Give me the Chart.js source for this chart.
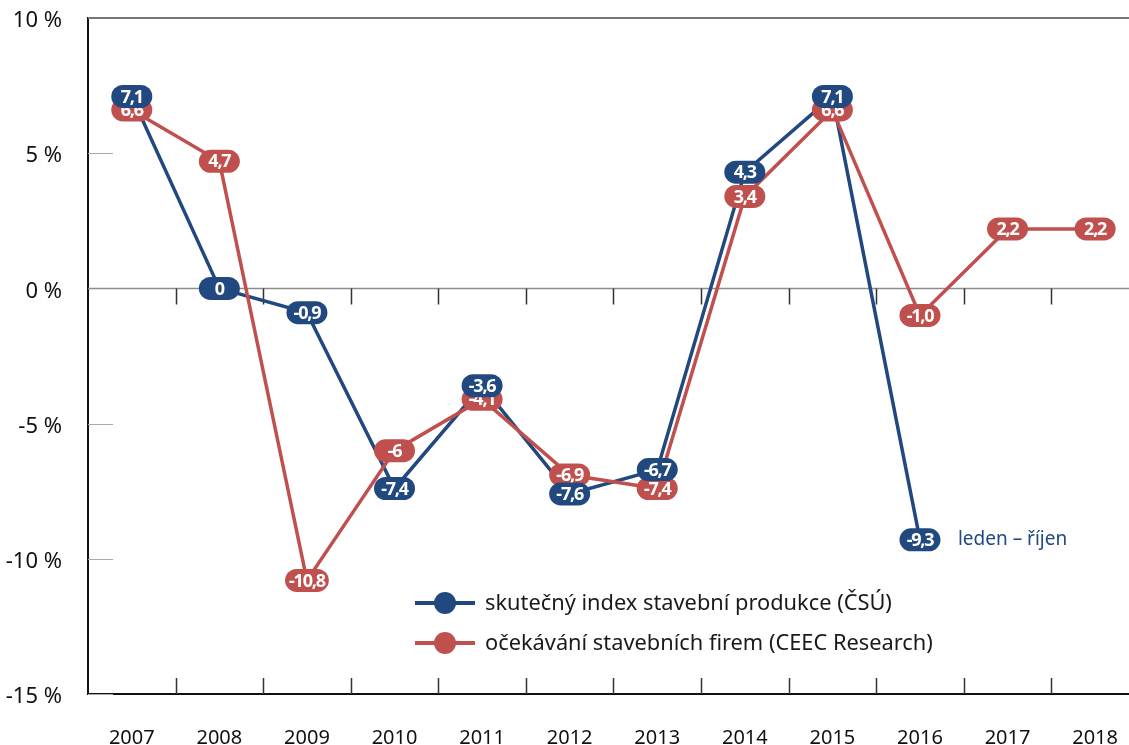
<!DOCTYPE html>
<html>
<head>
<meta charset="utf-8">
<script src="https://cdn.jsdelivr.net/npm/chart.js@4/dist/chart.umd.min.js"></script>
<style>
  html, body { margin: 0; padding: 0; background: #fff; overflow: hidden; }
  #wrap { width: 1142px; height: 745px; }
</style>
</head>
<body>
<div id="wrap"><canvas id="my-chart" width="1142" height="745"></canvas></div>
<script>
'use strict';

// **** Data ****

let years = ['2007', '2008', '2009', '2010', '2011', '2012', '2013', '2014', '2015', '2016', '2017', '2018'];
let skutecny = [7.1, 0, -0.9, -7.4, -3.6, -7.6, -6.7, 4.3, 7.1, -9.3, null, null];
let skutecnyLabels = ['7,1', '0', '-0,9', '-7,4', '-3,6', '-7,6', '-6,7', '4,3', '7,1', '-9,3', '', ''];
let ocekavani = [6.6, 4.7, -10.8, -6, -4.1, -6.9, -7.4, 3.4, 6.6, -1.0, 2.2, 2.2];
let ocekavaniLabels = ['6,6', '4,7', '-10,8', '-6', '-4,1', '-6,9', '-7,4', '3,4', '6,6', '-1,0', '2,2', '2,2'];
let yTicks = [-15, -10, -5, 0, 5, 10];
let legendNames = ['skutečný index stavební produkce (ČSÚ)', 'očekávání stavebních firem (CEEC Research)'];
let noteText = 'leden – říjen';

let blue = '#22497f';
let red = '#c0504d';
let font = '"Noto Sans", "Open Sans", sans-serif';

// **** Helpers ****

function roundRect(c, x, y, w, h, r) {
  c.beginPath();
  c.moveTo(x + r, y);
  c.lineTo(x + w - r, y);
  c.arc(x + w - r, y + r, r, -Math.PI / 2, Math.PI / 2);
  c.lineTo(x + r, y + h);
  c.arc(x + r, y + r, r, Math.PI / 2, Math.PI * 1.5);
  c.closePath();
}

function drawPills(chart, dsIndex, labels, color) {
  let c = chart.ctx;
  let meta = chart.getDatasetMeta(dsIndex);
  c.save();
  c.font = 'bold 18px ' + font;
  if ('letterSpacing' in c) c.letterSpacing = '-1.2px';
  c.textAlign = 'center';
  c.textBaseline = 'middle';
  meta.data.forEach(function (pt, i) {
    if (!labels[i] || pt.skip) return;
    let tw = c.measureText(labels[i]).width;
    let w = Math.max(41, tw + 8);
    let h = 23;
    c.fillStyle = color;
    roundRect(c, pt.x - w / 2, pt.y - h / 2, w, h, h / 2);
    c.fill();
    c.fillStyle = '#fff';
    c.fillText(labels[i], pt.x, pt.y + 1);
  });
  c.restore();
}

// **** Custom drawing plugin ****

let decorPlugin = {
  id: 'decor',
  beforeDatasetsDraw(chart) {
    let c = chart.ctx;
    let a = chart.chartArea;
    let y = chart.scales.y;
    let zeroY = y.getPixelForValue(0);
    c.save();
    // top border
    c.strokeStyle = '#777';
    c.lineWidth = 2;
    c.beginPath();
    c.moveTo(a.left, a.top);
    c.lineTo(a.right, a.top);
    c.stroke();
    // zero line
    c.strokeStyle = '#8c8c8c';
    c.lineWidth = 1.5;
    c.beginPath();
    c.moveTo(a.left, zeroY);
    c.lineTo(a.right, zeroY);
    c.stroke();
    // short y ticks
    c.strokeStyle = '#aaa';
    c.lineWidth = 1;
    yTicks.forEach(function (v) {
      if (v === 0 || v === 10) return;
      let py = Math.round(y.getPixelForValue(v)) + 0.5;
      c.beginPath();
      c.moveTo(a.left, py);
      c.lineTo(a.left + 25, py);
      c.stroke();
    });
    // category boundary ticks
    c.strokeStyle = '#333';
    c.lineWidth = 1.5;
    let step = (a.right - a.left) / years.length;
    for (let i = 1; i < years.length; i++) {
      let px = Math.round(a.left + step * i) + 0.5;
      c.beginPath();
      c.moveTo(px, a.bottom);
      c.lineTo(px, a.bottom - 16);
      c.moveTo(px, zeroY);
      c.lineTo(px, zeroY + 16);
      c.stroke();
    }
    c.restore();
  },
  afterDatasetsDraw(chart) {
    let c = chart.ctx;
    drawPills(chart, 1, ocekavaniLabels, red);
    drawPills(chart, 0, skutecnyLabels, blue);

    // note next to last blue point
    let last = chart.getDatasetMeta(0).data[9];
    c.save();
    c.font = '19px ' + font;
    c.fillStyle = blue;
    c.textAlign = 'left';
    c.textBaseline = 'middle';
    c.fillText(noteText, last.x + 38, last.y);

    // legend
    let colors = [blue, red];
    let rows = [603, 643];
    c.font = '21.8px ' + font;
    c.textBaseline = 'middle';
    for (let i = 0; i < 2; i++) {
      c.strokeStyle = colors[i];
      c.lineWidth = 4;
      c.beginPath();
      c.moveTo(415, rows[i]);
      c.lineTo(475, rows[i]);
      c.stroke();
      c.fillStyle = colors[i];
      c.beginPath();
      c.arc(445, rows[i], 11, 0, Math.PI * 2);
      c.fill();
      c.fillStyle = '#1a1a1a';
      c.fillText(legendNames[i], 485, rows[i] + 1);
    }
    c.restore();
  }
};

// **** Chart ****

let ctx = document.getElementById('my-chart').getContext('2d');

let myChartObj = {
  type: 'line',
  data: {
    labels: years,
    datasets: [{
      label: legendNames[0],
      data: skutecny,
      borderColor: blue,
      backgroundColor: blue,
      borderWidth: 3.5,
      pointRadius: 0,
      tension: 0,
      order: 2
    },
    {
      label: legendNames[1],
      data: ocekavani,
      borderColor: red,
      backgroundColor: red,
      borderWidth: 3.5,
      pointRadius: 0,
      tension: 0,
      order: 1
    }]
  },
  options: {
    responsive: false,
    animation: false,
    layout: { padding: { top: 18, right: 0, left: 0, bottom: 0 } },
    plugins: {
      legend: { display: false },
      tooltip: { enabled: false }
    },
    scales: {
      x: {
        offset: true,
        grid: { display: false },
        border: { display: true, color: '#111', width: 2 },
        ticks: {
          color: '#111',
          font: { family: font, size: 20 },
          padding: 24,
          maxRotation: 0
        },
        afterFit: function (s) { s.height = 51; }
      },
      y: {
        min: -15,
        max: 10,
        grid: { display: false },
        border: { display: true, color: '#111', width: 2 },
        afterBuildTicks: function (s) {
          s.ticks = yTicks.map(function (v) { return { value: v }; });
        },
        ticks: {
          color: '#111',
          font: { family: font, size: 22 },
          padding: 18,
          labelOffset: 3,
          callback: function (v) { return v + ' %'; }
        },
        afterFit: function (s) {
          s.width = 88;
          s.paddingTop = 0;
          s.paddingBottom = 0;
        }
      }
    }
  },
  plugins: [decorPlugin]
};

new Chart(ctx, myChartObj);
</script>
</body>
</html>
